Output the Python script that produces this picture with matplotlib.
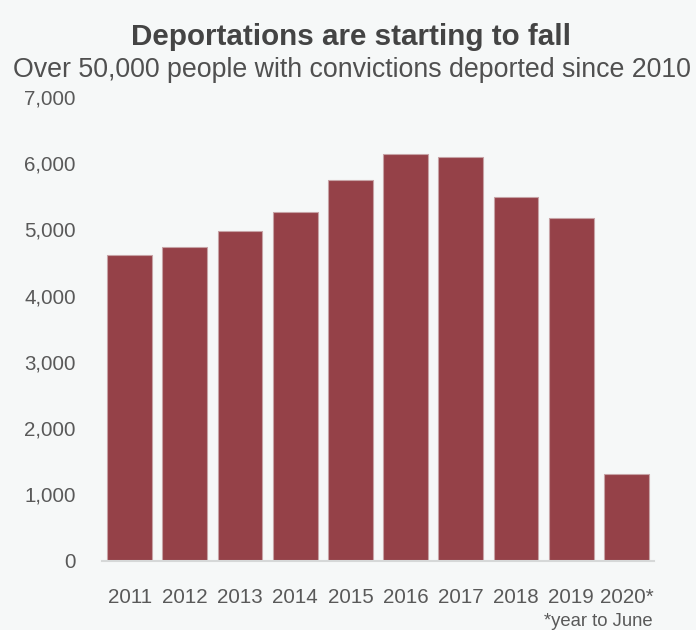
import matplotlib
matplotlib.use("Agg")
import matplotlib.pyplot as plt
from matplotlib.ticker import FuncFormatter

plt.rcParams["font.family"] = ["Liberation Sans", "DejaVu Sans"]

years = ["2011", "2012", "2013", "2014", "2015", "2016", "2017", "2018", "2019", "2020*"]
deportations = [4620, 4730, 4970, 5260, 5740, 6140, 6090, 5490, 5180, 1300]
y_ticks = [0, 1000, 2000, 3000, 4000, 5000, 6000, 7000]

bg = "#f6f8f8"
bar_color = "#954148"
text_color = "#595959"

fig = plt.figure(figsize=(6.96, 6.30), dpi=100, facecolor=bg)
ax = fig.add_axes([0.1466, 0.1103, 0.7931, 0.7357], facecolor=bg)

x = range(len(years))
ax.bar(x, deportations, width=0.81, color=bar_color,
       edgecolor="#c7a3a6", linewidth=0.8)

ax.set_xlim(-0.5, len(years) - 0.5)
ax.set_ylim(0, 7000)
ax.set_yticks(y_ticks)
ax.yaxis.set_major_formatter(FuncFormatter(lambda v, p: f"{int(v):,}"))
ax.set_xticks(list(x))
ax.set_xticklabels(years)

for side in ("top", "right", "left"):
    ax.spines[side].set_visible(False)
ax.spines["bottom"].set_color("#d6d8d8")
ax.spines["bottom"].set_linewidth(1.5)

ax.tick_params(axis="y", length=0, pad=19, labelsize=14.8, labelcolor=text_color)
ax.tick_params(axis="x", length=0, pad=19.5, labelsize=14.8, labelcolor=text_color)

fig.text(0.504, 0.9286, "Deportations are starting to fall", ha="center", va="baseline",
         fontsize=21.3, fontweight="bold", color="#444444")
fig.text(0.505, 0.8783, "Over 50,000 people with convictions deported since 2010",
         ha="center", va="baseline", fontsize=19.3, color="#505050")
fig.text(0.938, 0.0127, "*year to June", ha="right", va="center",
         fontsize=13.3, color=text_color)

fig.savefig("out.png", dpi=100, facecolor=bg)
